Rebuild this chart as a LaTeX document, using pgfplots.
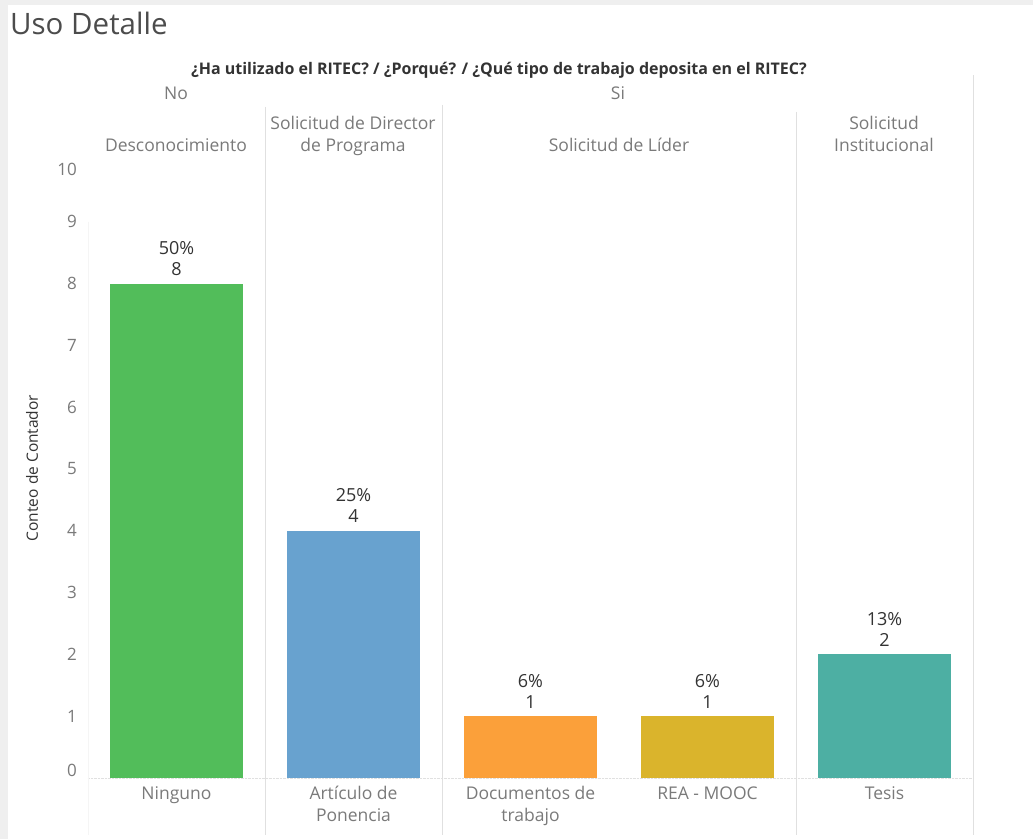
\documentclass[border=0pt]{standalone}
\usepackage{pgfplots}
\pgfplotsset{compat=1.18}
\usetikzlibrary{backgrounds}
\usepackage{fontspec}
\setmainfont{Open Sans}
\definecolor{cgreen}{HTML}{52BD5A}
\definecolor{cblue}{HTML}{68A2CF}
\definecolor{corange}{HTML}{FBA03A}
\definecolor{cgold}{HTML}{DAB42C}
\definecolor{cteal}{HTML}{4DAFA3}
\definecolor{sepc}{HTML}{E0E0E0}
\definecolor{lbl}{HTML}{7A7A7A}
\definecolor{dark}{HTML}{333333}
\definecolor{bgg}{HTML}{EFEFEF}
\begin{document}
\begin{tikzpicture}
\begin{axis}[
  name=ax,
  scale only axis, width=885pt, height=618pt,
  xmin=-0.5, xmax=4.5, ymin=0, ymax=10,
  ybar, bar width=0.75, bar shift=0pt,
  xtick={0,1,2,3,4},
  xticklabels={Ninguno, {Artículo de\\Ponencia}, {Documentos de\\trabajo}, {REA - MOOC}, Tesis},
  ytick={0,1,...,10},
  axis line style={draw=none},
  major tick length=0pt,
  clip=false,
  xticklabel style={font=\fontsize{17.5}{21.5}\selectfont, text=lbl, align=center, anchor=north, yshift=-5pt},
  yticklabel style={font=\fontsize{17}{20}\selectfont, text=lbl, inner sep=0pt, xshift=-11pt,
     yshift={(\ticknum==0)*8-(\ticknum==10)*9}},
  /pgf/number format/assume math mode=true,
  point meta=explicit symbolic,
  nodes near coords,
  every node near coord/.append style={font=\fontsize{18}{21}\selectfont, text=dark, align=center, anchor=south, inner sep=0pt, yshift=8pt},
]
\draw[sepc, densely dotted] (rel axis cs:0,0) -- (rel axis cs:1,0);
\draw[sepc] ({axis cs:0.5,0} |- {rel axis cs:0,1.086}) -- ({axis cs:0.5,0} |- {rel axis cs:0,-0.092});
\draw[sepc] ({axis cs:1.5,0} |- {rel axis cs:0,1.089}) -- ({axis cs:1.5,0} |- {rel axis cs:0,-0.092});
\draw[sepc] ({axis cs:3.5,0} |- {rel axis cs:0,1.078}) -- ({axis cs:3.5,0} |- {rel axis cs:0,-0.092});
\draw[sepc] ({axis cs:4.5,0} |- {rel axis cs:0,1.1375}) -- ({axis cs:4.5,0} |- {rel axis cs:0,-0.092});
\draw[black!4] ({axis cs:-0.5,0} |- {rel axis cs:0,0.9}) -- ({axis cs:-0.5,0} |- {rel axis cs:0,-0.092});
\addplot[fill=cgreen, draw=none] coordinates {(0,8) [{50\%\\8}]};
\addplot[fill=cblue, draw=none] coordinates {(1,4) [{25\%\\4}]};
\addplot[fill=corange, draw=none] coordinates {(2,1) [{6\%\\1}]};
\addplot[fill=cgold, draw=none] coordinates {(3,1) [{6\%\\1}]};
\addplot[fill=cteal, draw=none] coordinates {(4,2) [{13\%\\2}]};
\end{axis}
\begin{scope}[shift={(ax.south west)}, x=1pt, y=1pt, shift={(-88,-61)}]
\begin{scope}[on background layer]
\fill[bgg] (0,0) rectangle (1033,839);
\fill[white] (8,0) rectangle (1033,834);
\end{scope}
\node[anchor=base west, font=\fontsize{29.5}{34}\selectfont, text=black!70, inner sep=0pt] at (10,804) {Uso Detalle};
\node[anchor=base, font=\fontsize{16}{19}\selectfont\bfseries, text=dark, inner sep=0pt] at (499,764) {¿Ha utilizado el RITEC? / ¿Porqué? / ¿Qué tipo de trabajo deposita en el RITEC?};
\begin{scope}[every node/.style={anchor=base, font=\fontsize{17.5}{20}\selectfont, text=lbl, inner sep=0pt}]
\node at (176,739) {No};
\node at (618,739) {Si};
\node at (176,687) {Desconocimiento};
\node at (353,709) {Solicitud de Director};
\node at (353,687) {de Programa};
\node at (619,687) {Solicitud de Líder};
\node at (884,709) {Solicitud};
\node at (884,687) {Institucional};
\end{scope}
\node[rotate=90, font=\fontsize{15.5}{18}\selectfont, text=dark, inner sep=0pt] at (32,371) {Conteo de Contador};
\end{scope}
\end{tikzpicture}
\end{document}
